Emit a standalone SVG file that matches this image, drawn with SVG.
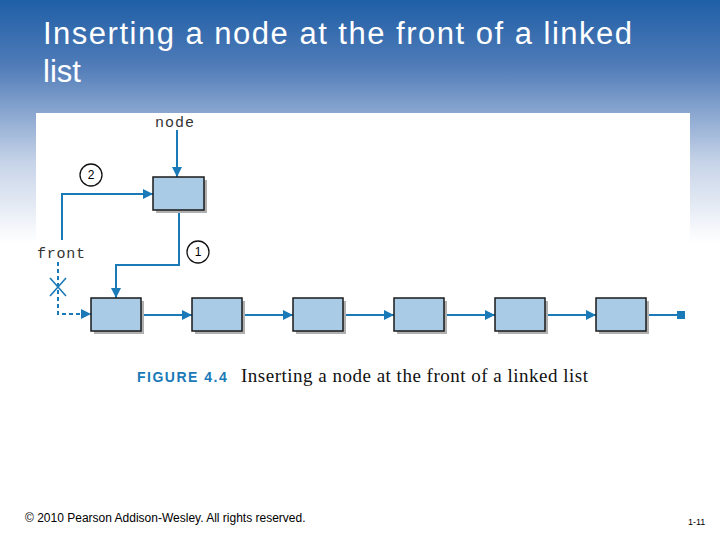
<svg xmlns="http://www.w3.org/2000/svg" width="720" height="540" viewBox="0 0 720 540">
<defs>
<linearGradient id="bg" x1="0" y1="0" x2="0" y2="1">
<stop offset="0" stop-color="#1f5fa6"/><stop offset="0.12" stop-color="#4f7bb8"/><stop offset="0.3" stop-color="#c6d3e8"/><stop offset="0.45" stop-color="#ffffff"/><stop offset="1" stop-color="#ffffff"/>
</linearGradient>
<marker id="ah" viewBox="0 0 10 10" refX="10" refY="5" markerWidth="11" markerHeight="10" markerUnits="userSpaceOnUse" orient="auto"><path d="M0,0 L10,5 L0,10 z" fill="#1a7ab8"/></marker>
<style>
.n{fill:#a9cbe6;stroke:#1a1a1a;stroke-width:1.5}
.s{fill:#b0b0b0}
.c{fill:none;stroke:#1a7ab8;stroke-width:2}
.d{stroke-dasharray:4,3}
.mono{font-family:"Liberation Mono",monospace;font-size:15px;fill:#333}
.circ{fill:#fff;stroke:#111;stroke-width:1.3}
.num{font-family:"Liberation Sans",sans-serif;font-size:12px;text-anchor:middle}
</style>
</defs>
<rect width="720" height="540" fill="url(#bg)"/>
<text x="43" y="44" font-family="Liberation Sans,sans-serif" font-size="31" fill="#fff" textLength="589">Inserting a node at the front of a linked</text>
<text x="43" y="82" font-family="Liberation Sans,sans-serif" font-size="31" fill="#fff">list</text>
<rect x="36" y="113" width="654" height="272" fill="#fff"/>
<g id="connectors">
<path class="c" d="M177,130 V177" marker-end="url(#ah)"/>
<path class="c" d="M62,240 V194 H153" marker-end="url(#ah)"/>
<path class="c" d="M179,210 V265 H116 V298" marker-end="url(#ah)"/>
<path class="c d" d="M58,262 V314 H91" marker-end="url(#ah)"/>
<path d="M50,278 L66,296 M66,278 L50,296" stroke="#1a7ab8" stroke-width="1.6"/>
<path class="c" d="M141,315 H192" marker-end="url(#ah)"/>
<path class="c" d="M242,315 H293" marker-end="url(#ah)"/>
<path class="c" d="M343,315 H394" marker-end="url(#ah)"/>
<path class="c" d="M444,315 H495" marker-end="url(#ah)"/>
<path class="c" d="M545,315 H596" marker-end="url(#ah)"/>
<path class="c" d="M646,315 H678"/>
<rect x="677" y="311" width="8" height="8" fill="#1a7ab8"/>
</g>
<g id="node-new"><rect class="s" x="156" y="180" width="51" height="33"/><rect class="n" x="153" y="177" width="51" height="33"/></g>
<g id="n1"><rect class="s" x="94" y="301" width="50" height="33"/><rect class="n" x="91" y="298" width="50" height="33"/></g>
<g id="n2"><rect class="s" x="195" y="301" width="50" height="33"/><rect class="n" x="192" y="298" width="50" height="33"/></g>
<g id="n3"><rect class="s" x="296" y="301" width="50" height="33"/><rect class="n" x="293" y="298" width="50" height="33"/></g>
<g id="n4"><rect class="s" x="397" y="301" width="50" height="33"/><rect class="n" x="394" y="298" width="50" height="33"/></g>
<g id="n5"><rect class="s" x="498" y="301" width="50" height="33"/><rect class="n" x="495" y="298" width="50" height="33"/></g>
<g id="n6"><rect class="s" x="599" y="301" width="50" height="33"/><rect class="n" x="596" y="298" width="50" height="33"/></g>
<g id="labels">
<text class="mono" x="155" y="127" textLength="39">node</text>
<text class="mono" x="37" y="258" textLength="48">front</text>
<circle class="circ" cx="91" cy="175" r="11"/><text class="num" x="91" y="179">2</text>
<circle class="circ" cx="198" cy="252" r="11"/><text class="num" x="198" y="256">1</text>
</g>
<text x="137" y="382" font-family="Liberation Sans,sans-serif" font-weight="bold" font-size="14" letter-spacing="1.5" fill="#1a7ab8">FIGURE 4.4</text>
<text x="241" y="382" font-family="Liberation Serif,serif" font-size="19" fill="#111" textLength="347">Inserting a node at the front of a linked list</text>
<text x="25" y="522" font-family="Liberation Sans,sans-serif" font-size="12" fill="#000">© 2010 Pearson Addison-Wesley. All rights reserved.</text>
<text x="688" y="525" font-family="Liberation Sans,sans-serif" font-size="9" fill="#000">1-11</text>
</svg>
